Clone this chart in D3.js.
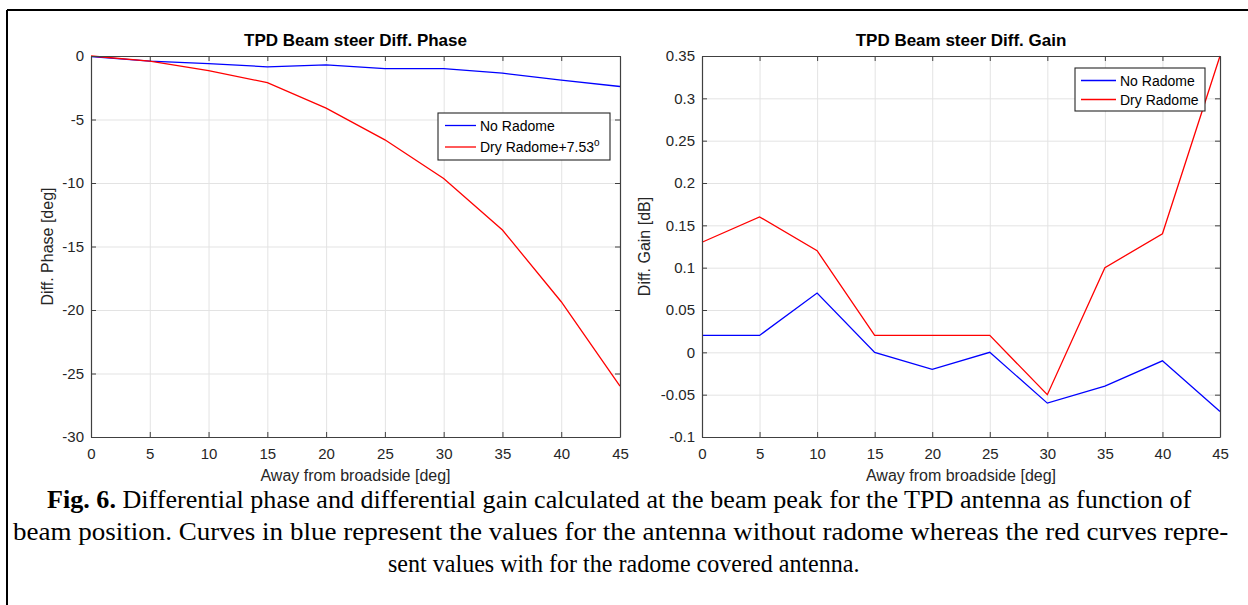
<!DOCTYPE html>
<html>
<head>
<meta charset="utf-8">
<script src="https://cdn.jsdelivr.net/npm/d3@7"></script>
<style>
  body { margin: 0; background: #fff; }
  svg { display: block; }
  .tick text { font-family: "Liberation Sans", Arial, sans-serif; fill: #262626; }
</style>
</head>
<body>
<svg id="fig" width="1248" height="605"></svg>
<script>
// ---------- data ----------
var angles = [0, 5, 10, 15, 20, 25, 30, 35, 40, 45];

var phaseNoRadome  = [-0.05, -0.4, -0.6, -0.85, -0.7, -1.0, -1.0, -1.35, -1.9, -2.4];
var phaseDryRadome = [0, -0.4, -1.15, -2.1, -4.1, -6.6, -9.65, -13.7, -19.35, -26.0];

var gainNoRadome  = [0.02, 0.02, 0.07, 0, -0.02, 0, -0.06, -0.04, -0.01, -0.07];
var gainDryRadome = [0.13, 0.16, 0.12, 0.02, 0.02, 0.02, -0.05, 0.10, 0.14, 0.35];

var xTicks     = [0, 5, 10, 15, 20, 25, 30, 35, 40, 45];
var phaseTicks = [-30, -25, -20, -15, -10, -5, 0];
var gainTicks  = [-0.1, -0.05, 0, 0.05, 0.1, 0.15, 0.2, 0.25, 0.3, 0.35];

var captionLines = [
  ["Fig. 6.", " Differential phase and differential gain calculated at the beam peak for the TPD antenna as function of"],
  ["", "beam position. Curves in blue represent the values for the antenna without radome whereas the red curves repre-"],
  ["", "sent values with for the radome covered antenna."]
];

var svg = d3.select("#fig");
var sans = '"Liberation Sans", Arial, sans-serif';
var axisCol = "#404040";
var gridCol = "#e3e3e3";
// matlab style labels: plain hyphen for minus
var fmt = function(d) { return String(+(+d).toFixed(2)); };

// outer frame (only top and left edges are visible)
svg.append("line").attr("x1", 7).attr("x2", 1248).attr("y1", 10).attr("y2", 10)
    .attr("stroke", "#000").attr("stroke-width", 2);
svg.append("line").attr("x1", 7).attr("x2", 7).attr("y1", 10).attr("y2", 605)
    .attr("stroke", "#000").attr("stroke-width", 2);

function drawPanel(p) {
  var w = p.x1 - p.x0, h = p.y1 - p.y0;
  var x = d3.scaleLinear().domain([0, 45]).range([0, w]);
  var y = d3.scaleLinear().domain(p.yDomain).range([h, 0]);

  var g = svg.append("g").attr("transform", "translate(" + p.x0 + "," + p.y0 + ")");

  // grid
  g.append("g").attr("transform", "translate(0," + h + ")")
    .call(d3.axisBottom(x).tickValues(xTicks).tickSize(-h).tickFormat(""))
    .call(function(s) { s.select(".domain").remove(); s.selectAll("line").attr("stroke", gridCol); });
  g.append("g")
    .call(d3.axisLeft(y).tickValues(p.yTicks).tickSize(-w).tickFormat(""))
    .call(function(s) { s.select(".domain").remove(); s.selectAll("line").attr("stroke", gridCol); });

  // series
  var line = d3.line().x(function(d, i) { return x(angles[i]); }).y(function(d) { return y(d); });
  p.series.forEach(function(s) {
    g.append("path").datum(s.values)
      .attr("fill", "none").attr("stroke", s.color).attr("stroke-width", 1.3)
      .attr("d", line);
  });

  // axes, ticks pointing inward on all four sides
  var styleAxis = function(s) {
    s.select(".domain").attr("stroke", axisCol).attr("stroke-width", 1.2);
    s.selectAll(".tick line").attr("stroke", axisCol);
    s.selectAll(".tick text").style("font-size", "15px");
  };
  g.append("g").attr("transform", "translate(0," + h + ")")
    .call(d3.axisBottom(x).tickValues(xTicks).tickSize(-5).tickPadding(11).tickSizeOuter(0).tickFormat(fmt))
    .call(styleAxis);
  g.append("g")
    .call(d3.axisLeft(y).tickValues(p.yTicks).tickSize(-5).tickPadding(7).tickSizeOuter(0).tickFormat(fmt))
    .call(styleAxis);
  g.append("g")
    .call(d3.axisTop(x).tickValues(xTicks).tickSize(-5).tickSizeOuter(0).tickFormat(""))
    .call(styleAxis);
  g.append("g").attr("transform", "translate(" + w + ",0)")
    .call(d3.axisRight(y).tickValues(p.yTicks).tickSize(-5).tickSizeOuter(0).tickFormat(""))
    .call(styleAxis);

  // title and labels
  g.append("text").attr("x", w / 2).attr("y", -10).attr("text-anchor", "middle")
    .attr("font-family", sans).attr("font-weight", "bold").attr("font-size", 17)
    .attr("fill", "#000").text(p.title);
  g.append("text").attr("x", w / 2).attr("y", h + 44).attr("text-anchor", "middle")
    .attr("font-family", sans).attr("font-size", 16).attr("fill", "#262626").text(p.xLabel);
  g.append("text").attr("transform", "translate(" + p.yLabelX + "," + (h / 2) + ") rotate(-90)")
    .attr("text-anchor", "middle").attr("font-family", sans).attr("font-size", 16)
    .attr("fill", "#262626").text(p.yLabel);

  // legend
  var L = p.legend;
  var lg = g.append("g").attr("transform", "translate(" + (L.x - p.x0) + "," + (L.y - p.y0) + ")");
  lg.append("rect").attr("width", L.w).attr("height", L.h)
    .attr("fill", "#fff").attr("stroke", "#262626").attr("stroke-width", 1.1);
  p.series.forEach(function(s, i) {
    var cy = L.firstRow + i * L.rowGap;
    lg.append("line").attr("x1", L.lineX0).attr("x2", L.lineX1).attr("y1", cy).attr("y2", cy)
      .attr("stroke", s.color).attr("stroke-width", 1.3);
    var t = lg.append("text").attr("x", L.lineX1 + 4).attr("y", cy + 5)
      .attr("font-family", sans).attr("font-size", 14).attr("fill", "#000").text(s.name);
    if (s.sup) {
      t.append("tspan").attr("dy", -6).attr("font-size", 10).text(s.sup);
    }
  });
}

drawPanel({
  x0: 91, x1: 620, y0: 56, y1: 437,
  yDomain: [-30, 0], yTicks: phaseTicks,
  title: "TPD Beam steer Diff. Phase",
  xLabel: "Away from broadside [deg]",
  yLabel: "Diff. Phase [deg]", yLabelX: -38,
  series: [
    { name: "No Radome", color: "#0000ff", values: phaseNoRadome },
    { name: "Dry Radome+7.53", sup: "o", color: "#ff0000", values: phaseDryRadome }
  ],
  legend: { x: 438, y: 113, w: 172, h: 47, firstRow: 12.5, rowGap: 21.5, lineX0: 7, lineX1: 38 }
});

drawPanel({
  x0: 702, x1: 1220, y0: 56, y1: 437,
  yDomain: [-0.1, 0.35], yTicks: gainTicks,
  title: "TPD Beam steer Diff. Gain",
  xLabel: "Away from broadside [deg]",
  yLabel: "Diff. Gain [dB]", yLabelX: -52,
  series: [
    { name: "No Radome", color: "#0000ff", values: gainNoRadome },
    { name: "Dry Radome", color: "#ff0000", values: gainDryRadome }
  ],
  legend: { x: 1075, y: 68, w: 130, h: 43, firstRow: 12.5, rowGap: 19, lineX0: 6, lineX1: 41 }
});

// ---------- caption (narrow, tall serif: squeeze each line to its width) ----------
var serif = '"Liberation Serif", "Times New Roman", serif';
var capSpec = [
  { y: 508, x0: 47, x1: 1192 },
  { y: 540, x0: 13, x1: 1229 },
  { y: 572, x0: 388, x1: 860 }
];
captionLines.forEach(function(parts, i) {
  var c = capSpec[i];
  var t = svg.append("text").attr("font-family", serif)
    .attr("font-size", 24.5).attr("fill", "#000");
  if (parts[0]) t.append("tspan").attr("font-weight", "bold").text(parts[0]);
  t.append("tspan").text(parts[1]);
  var natural = t.node().getComputedTextLength();
  t.attr("transform", "translate(" + c.x0 + "," + c.y + ") scale(" + ((c.x1 - c.x0) / natural) + ",1)");
});
</script>
</body>
</html>
